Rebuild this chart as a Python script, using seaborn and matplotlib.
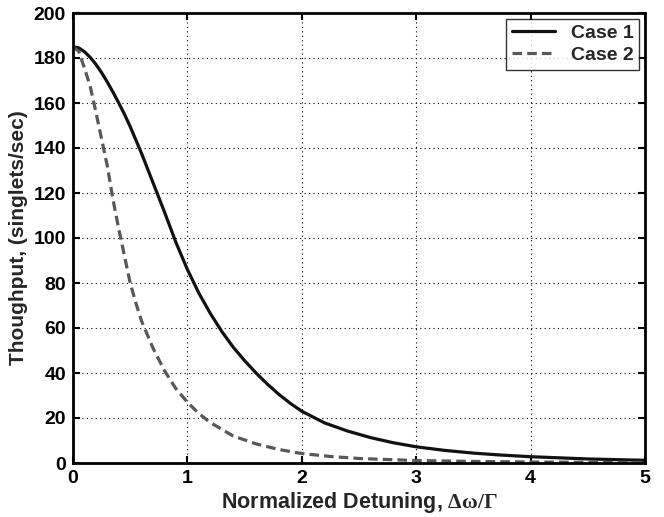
import numpy as np
import pandas as pd
import matplotlib
matplotlib.use("Agg")
import matplotlib.pyplot as plt
import seaborn as sns

# Data
x_case1 = [0, 0.05, 0.1, 0.15, 0.2, 0.25, 0.3, 0.35, 0.4, 0.45, 0.5, 0.55, 0.6, 0.7,
           0.8, 0.9, 1.0, 1.1, 1.2, 1.3, 1.4, 1.5, 1.6, 1.7, 1.8, 1.9, 2.0, 2.2, 2.4,
           2.6, 2.8, 3.0, 3.25, 3.5, 3.75, 4.0, 4.5, 5.0]
y_case1 = [185, 184.5, 182.8, 180.3, 177.2, 173.5, 169.3, 164.8, 160, 155, 149.5,
           143.5, 137.5, 124.5, 111.5, 98, 86, 75.5, 66.5, 58.5, 51.5, 45.5, 40, 35,
           30.5, 26.5, 23, 17.8, 14.2, 11.3, 9.0, 7.2, 5.6, 4.4, 3.5, 2.8, 1.8, 1.2]
x_case2 = [0, 0.05, 0.1, 0.15, 0.2, 0.25, 0.3, 0.35, 0.4, 0.45, 0.5, 0.55, 0.6, 0.7,
           0.8, 0.9, 1.0, 1.1, 1.2, 1.4, 1.6, 1.8, 2.0, 2.25, 2.5, 3.0, 3.5, 4.0, 4.5,
           5.0]
y_case2 = [185, 183, 175.5, 167.5, 156, 144, 132, 117, 104, 92, 80, 71, 63, 51,
           41, 33, 27, 22, 18, 12, 8.5, 6, 4.2, 2.9, 2.0, 1.1, 0.7, 0.45, 0.3, 0.2]
series_names = ["Case 1", "Case 2"]
x_ticks = [0, 1, 2, 3, 4, 5]
y_ticks = list(range(0, 201, 20))

df = pd.concat([
    pd.DataFrame({"x": x_case1, "y": y_case1, "case": series_names[0]}),
    pd.DataFrame({"x": x_case2, "y": y_case2, "case": series_names[1]}),
], ignore_index=True)

sns.set_style("ticks")
plt.rcParams["font.family"] = ["Liberation Sans", "DejaVu Sans"]
plt.rcParams["font.weight"] = "bold"
plt.rcParams["mathtext.fontset"] = "custom"
plt.rcParams["mathtext.rm"] = "Liberation Serif"
plt.rcParams["mathtext.it"] = "Liberation Serif"
plt.rcParams["mathtext.bf"] = "Liberation Serif"

fig = plt.figure(figsize=(6.64, 5.17), dpi=100)
ax = fig.add_axes([73 / 664, 1 - 463 / 517, 572 / 664, 450 / 517])

sns.lineplot(data=df, x="x", y="y", hue="case", style="case",
             palette={"Case 1": "#111111", "Case 2": "#585858"},
             dashes={"Case 1": "", "Case 2": (3, 1.6)},
             linewidth=2.3, ax=ax, sort=False, estimator=None)

ax.set_xlim(0, 5)
ax.set_ylim(0, 200)
ax.set_xticks(x_ticks)
ax.set_yticks(y_ticks)
ax.grid(True, linestyle=(0, (1, 3)), color="black", linewidth=0.8)
ax.tick_params(direction="in", length=5, width=1.5, top=True, right=True,
               labelsize=14, pad=5, colors="black")
for lab in ax.get_xticklabels() + ax.get_yticklabels():
    lab.set_fontweight("bold")
for s in ax.spines.values():
    s.set_linewidth(2)
    s.set_color("black")
    s.set_visible(True)

ax.set_xlabel(r"Normalized Detuning, $\Delta\omega/\Gamma$", fontsize=15.5,
              fontweight="bold", labelpad=2)
ax.set_ylabel("Thoughput, (singlets/sec)", fontsize=15, fontweight="bold", labelpad=4)

leg = ax.legend(loc="upper right", fontsize=14, frameon=True, fancybox=False,
                edgecolor="black", handlelength=2.2, borderaxespad=0.3,
                borderpad=0.3, labelspacing=0.2)
leg.get_frame().set_linewidth(1.0)
leg.set_title(None)
for t in leg.get_texts():
    t.set_fontweight("bold")

fig.savefig("out.png", dpi=100)
